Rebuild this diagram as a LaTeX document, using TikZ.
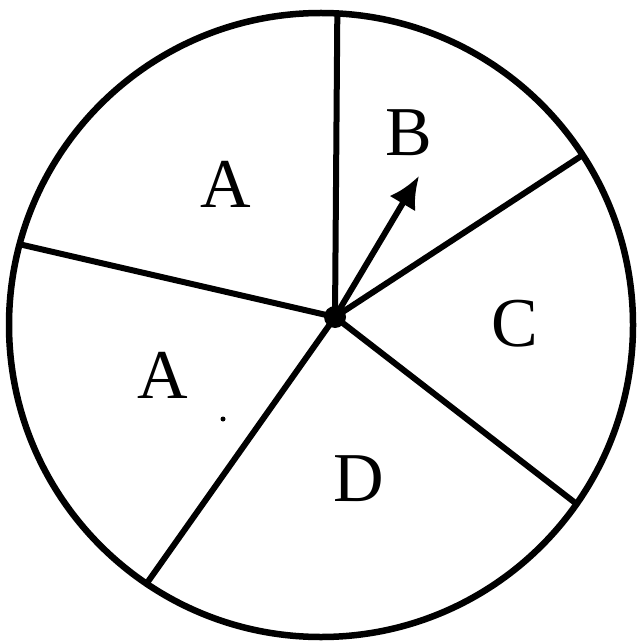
\documentclass[tikz,border=0pt]{standalone}
\usepackage{fontspec}
\setmainfont{Liberation Serif}
\usetikzlibrary{arrows.meta}
\begin{document}
\begin{tikzpicture}[x=1pt,y=-1pt,
  rim/.style={circle, draw, line width=6.5pt, minimum size=624pt, inner sep=0pt, outer sep=0pt},
  spoke/.style={line width=6pt},
  lbl/.style={font=\fontsize{70}{70}\selectfont, inner sep=0pt}]
\useasboundingbox (0,0) rectangle (636,644);
\node[rim] (O) at (321,325) {};
\node[circle, fill, minimum size=22pt, inner sep=0pt] (H) at (335,317) {};
\draw[spoke] (H.center) -- (O.87.1);
\draw[spoke] (H.center) -- (O.33.1);
\draw[spoke] (H.center) -- (O.-35.2);
\draw[spoke] (H.center) -- (O.236.7);
\draw[spoke] (H.center) -- (O.165.8);
\coordinate (tip) at (419,176);
\draw[spoke, -{Latex[length=32pt,width=30pt]}] (H.center) -- (tip);
\node[lbl] (a1) at (226,184) {A};
\node[lbl] (b) at (409,133) {B};
\node[lbl] (c) at (515,324) {C};
\node[lbl] (a2) at (163,375) {A};
\node[lbl] (d) at (359,479) {D};
\node[circle, fill, minimum size=5pt, inner sep=0pt] (dot) at (223,419) {};
\end{tikzpicture}
\end{document}
